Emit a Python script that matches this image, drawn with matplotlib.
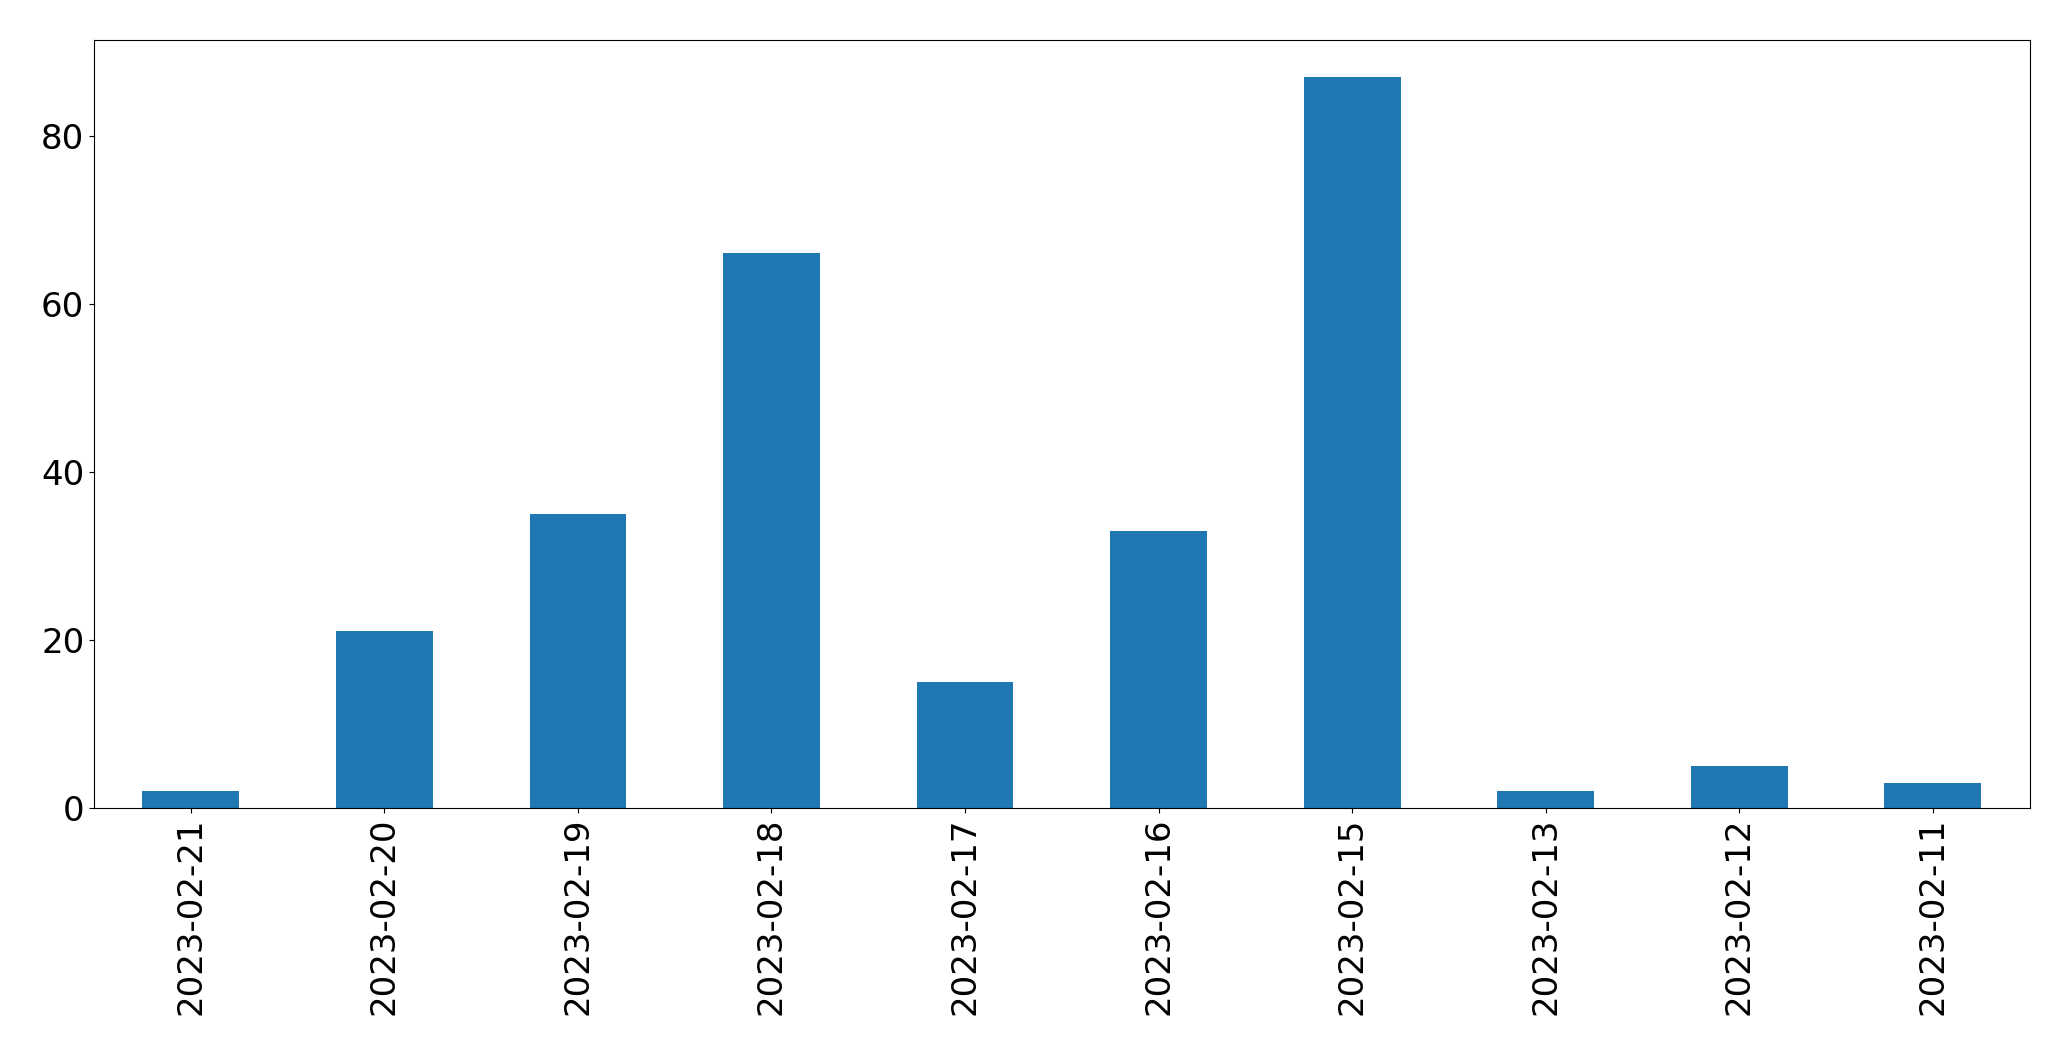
import matplotlib
matplotlib.use('Agg')
import matplotlib.pyplot as plt
import pandas as pd

dates = ['2023-02-21', '2023-02-20', '2023-02-19', '2023-02-18', '2023-02-17',
         '2023-02-16', '2023-02-15', '2023-02-13', '2023-02-12', '2023-02-11']
counts = [2, 21, 35, 66, 15, 33, 87, 2, 5, 3]

s = pd.Series(counts, index=dates)

fig, ax = plt.subplots(figsize=(20.71, 10.61), dpi=100)
fig.subplots_adjust(left=0.0454, right=0.980, top=0.962, bottom=0.2385)
s.plot(kind='bar', ax=ax, color='#1f77b4', fontsize=24.5)
ax.set_yticks([0, 20, 40, 60, 80])

fig.savefig('out.png', dpi=100)
